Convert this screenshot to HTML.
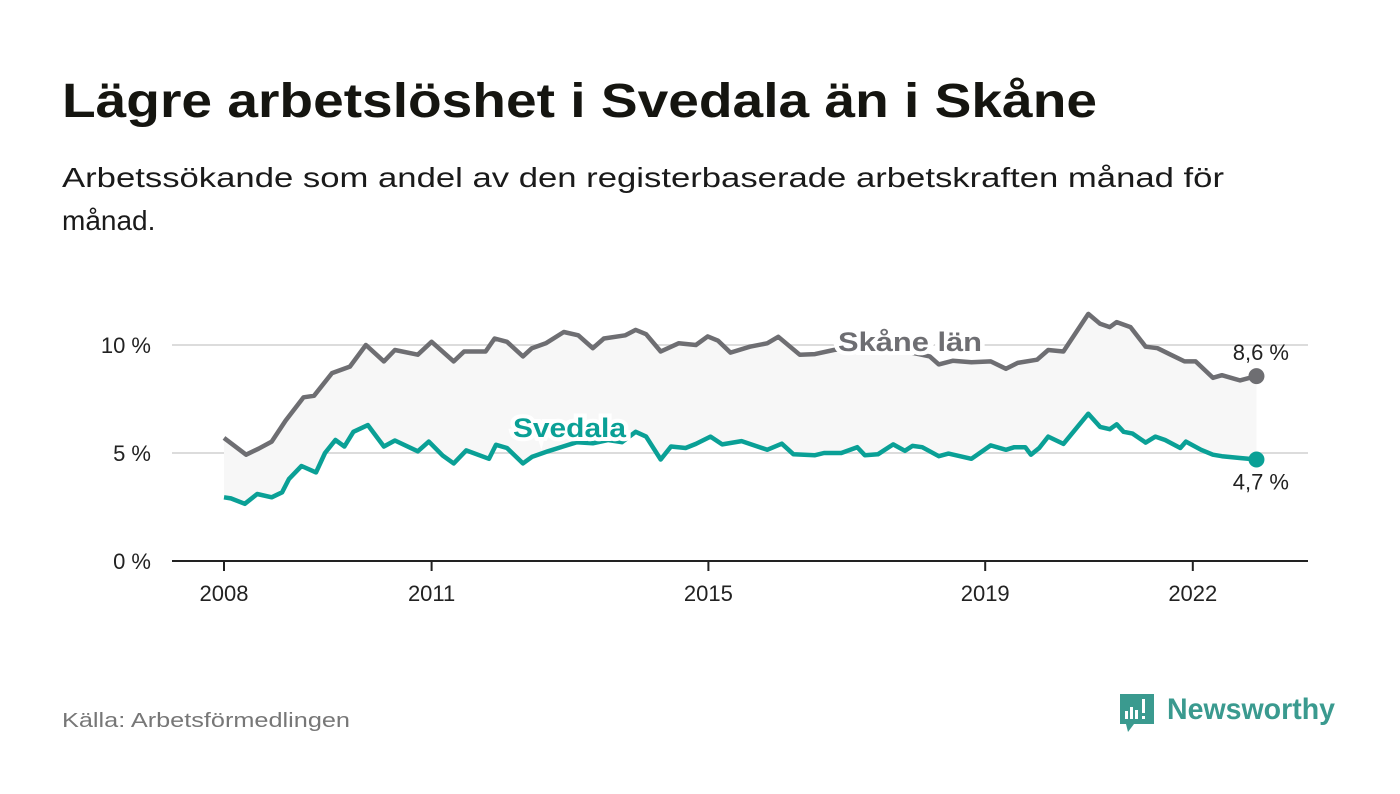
<!DOCTYPE html>
<html><head><meta charset="utf-8"><style>
html,body{margin:0;padding:0;background:#fff;}
svg{display:block;font-family:"Liberation Sans",sans-serif;}
</style></head><body>
<svg id="chart" width="1400" height="794" viewBox="0 0 1400 794">
<text x="62" y="117" font-size="48" font-weight="bold" fill="#151510" textLength="1035" lengthAdjust="spacingAndGlyphs">Lägre arbetslöshet i Svedala än i Skåne</text>
<text x="62" y="187" font-size="28" fill="#1a1a1a" textLength="1162" lengthAdjust="spacingAndGlyphs">Arbetssökande som andel av den registerbaserade arbetskraften månad för</text>
<text x="62" y="230" font-size="28" fill="#1a1a1a">månad.</text>
<g id="grid"></g>
<g id="plot"></g>
<g id="labels"></g>
<text x="62" y="727" font-size="20" fill="#777" textLength="288" lengthAdjust="spacingAndGlyphs">Källa: Arbetsförmedlingen</text>
<g>
<path d="M1120 694 h34 v30 h-20 l-6 8 l-2 -8 h-6 z" fill="#3a9a8f"/>
<rect x="1125" y="711" width="3" height="8" fill="#fff"/><rect x="1130" y="707" width="3" height="12" fill="#fff"/><rect x="1135" y="710" width="3" height="9" fill="#fff"/><rect x="1142" y="699" width="3" height="14" fill="#fff"/><rect x="1142" y="716" width="3" height="3" fill="#fff"/>
<text x="1167" y="719" font-size="30" font-weight="bold" fill="#3a9a8f" textLength="168" lengthAdjust="spacingAndGlyphs">Newsworthy</text>
</g>
</svg>
<script>
const yTicks = [0, 5, 10];
const yTickLabels = ["0 %", "5 %", "10 %"];
const xTicks = [2008, 2011, 2015, 2019, 2022];
const skaneDates = [2008.0,2008.32,2008.5,2008.69,2008.89,2009.15,2009.3,2009.56,2009.82,2010.05,2010.31,2010.47,2010.8,2011.0,2011.32,2011.47,2011.78,2011.91,2012.09,2012.32,2012.45,2012.65,2012.91,2013.12,2013.33,2013.49,2013.8,2013.95,2014.1,2014.31,2014.57,2014.82,2014.99,2015.14,2015.32,2015.6,2015.85,2016.01,2016.32,2016.54,2016.81,2017.1,2017.4,2017.7,2018.0,2018.2,2018.33,2018.53,2018.8,2019.08,2019.3,2019.47,2019.75,2019.91,2020.13,2020.49,2020.66,2020.8,2020.9,2021.1,2021.32,2021.49,2021.68,2021.88,2022.04,2022.29,2022.42,2022.68,2022.92];
const skaneValues = [5.7,4.92,5.2,5.53,6.5,7.58,7.65,8.7,9.0,10.0,9.24,9.77,9.55,10.15,9.24,9.7,9.7,10.3,10.15,9.47,9.85,10.08,10.6,10.45,9.85,10.3,10.45,10.7,10.5,9.7,10.08,10.0,10.4,10.2,9.65,9.92,10.08,10.38,9.55,9.58,9.77,9.9,9.95,9.8,9.6,9.47,9.1,9.27,9.2,9.24,8.9,9.17,9.32,9.77,9.7,11.44,10.98,10.83,11.06,10.83,9.92,9.85,9.55,9.24,9.24,8.48,8.6,8.36,8.56];
const svedalaDates = [2008.0,2008.1,2008.3,2008.48,2008.69,2008.84,2008.94,2009.12,2009.33,2009.46,2009.61,2009.74,2009.87,2010.08,2010.31,2010.47,2010.8,2010.96,2011.16,2011.32,2011.5,2011.83,2011.93,2012.09,2012.32,2012.45,2012.68,2012.9,2013.1,2013.33,2013.55,2013.75,2013.95,2014.1,2014.31,2014.46,2014.67,2014.82,2015.03,2015.2,2015.48,2015.85,2016.06,2016.23,2016.54,2016.67,2016.92,2017.15,2017.26,2017.45,2017.67,2017.84,2017.95,2018.09,2018.33,2018.47,2018.8,2019.08,2019.3,2019.42,2019.58,2019.66,2019.78,2019.91,2020.13,2020.49,2020.66,2020.8,2020.9,2021.0,2021.13,2021.32,2021.46,2021.6,2021.82,2021.9,2022.12,2022.29,2022.42,2022.68,2022.92];
const svedalaValues = [2.95,2.9,2.65,3.1,2.95,3.18,3.8,4.4,4.1,5.0,5.6,5.3,5.98,6.29,5.3,5.58,5.08,5.53,4.88,4.52,5.12,4.73,5.38,5.23,4.52,4.82,5.08,5.3,5.5,5.45,5.6,5.5,5.98,5.76,4.7,5.3,5.23,5.42,5.76,5.4,5.55,5.15,5.43,4.94,4.9,5.0,5.0,5.27,4.9,4.94,5.4,5.1,5.33,5.27,4.85,4.97,4.73,5.35,5.15,5.27,5.27,4.92,5.23,5.76,5.42,6.82,6.21,6.1,6.33,5.98,5.9,5.48,5.76,5.6,5.23,5.53,5.15,4.92,4.85,4.77,4.7];
const skaneLast = "8,6 %";
const svedalaLast = "4,7 %";

const NS = "http://www.w3.org/2000/svg";
const X0 = 224, PXY = 69.2, Y0 = 561, PXV = 21.6;
function xS(yr){ return X0 + (yr - 2008) * PXY; }
function yS(v){ return Y0 - v * PXV; }
function mk(tag, attrs, parent){
  const e = document.createElementNS(NS, tag);
  for (const k in attrs) e.setAttribute(k, attrs[k]);
  parent.appendChild(e); return e;
}
const grid = document.getElementById('grid');
const plot = document.getElementById('plot');
const labels = document.getElementById('labels');

yTicks.forEach((t, i) => {
  if (t > 0) {
    const g = mk('line', {x1:172, x2:1308, y1:yS(t), y2:yS(t), stroke:'#dcdcdc', 'stroke-width':2}, grid);
    
    
  }
  const tx = mk('text', {x:151, y:yS(t)+8, 'text-anchor':'end', 'font-size':22, fill:'#222'}, grid);
  tx.textContent = yTickLabels[i];
  
  
});
const ax = mk('line', {x1:172, x2:1308, y1:Y0, y2:Y0, stroke:'#222', 'stroke-width':2}, grid);


xTicks.forEach(t => {
  const tk = mk('line', {x1:xS(t), x2:xS(t), y1:Y0, y2:Y0+10, stroke:'#222', 'stroke-width':2}, grid);
  
  
  const tx = mk('text', {x:xS(t), y:601, 'text-anchor':'middle', 'font-size':22, fill:'#222'}, grid);
  tx.textContent = String(t);
  
  
});

function pts(d, v){ return d.map((yr, i) => xS(yr).toFixed(1) + ',' + yS(v[i]).toFixed(1)); }
const sk = pts(skaneDates, skaneValues), sv = pts(svedalaDates, svedalaValues);
const area = mk('polygon', {points: sk.concat(sv.slice().reverse()).join(' '), fill:'#f7f7f7'}, plot);


const l1 = mk('polyline', {points: sk.join(' '), fill:'none', stroke:'#6e6e72', 'stroke-width':4.5, 'stroke-linejoin':'round'}, plot);


const l2 = mk('polyline', {points: sv.join(' '), fill:'none', stroke:'#0aa096', 'stroke-width':4.5, 'stroke-linejoin':'round'}, plot);



const ls = skaneDates.length - 1, lv = svedalaDates.length - 1;
const d1 = mk('circle', {cx:xS(skaneDates[ls]), cy:yS(skaneValues[ls]), r:8, fill:'#6e6e72'}, plot);


const d2 = mk('circle', {cx:xS(svedalaDates[lv]), cy:yS(svedalaValues[lv]), r:8, fill:'#0aa096'}, plot);



const e1 = mk('text', {x:1289, y:yS(skaneValues[ls]) - 16, 'text-anchor':'end', 'font-size':22, fill:'#222'}, labels);
e1.textContent = skaneLast;


const e2 = mk('text', {x:1289, y:yS(svedalaValues[lv]) + 30, 'text-anchor':'end', 'font-size':22, fill:'#222'}, labels);
e2.textContent = svedalaLast;



const s1 = mk('text', {x:838, y:351, 'font-size':27, 'font-weight':'bold', fill:'#6e6e72', stroke:'#fff', 'stroke-width':8, 'paint-order':'stroke', textLength:144, lengthAdjust:'spacingAndGlyphs'}, labels);
s1.textContent = 'Skåne län';


const s2 = mk('text', {x:513, y:437, 'font-size':27, 'font-weight':'bold', fill:'#0aa096', stroke:'#fff', 'stroke-width':8, 'paint-order':'stroke', textLength:113, lengthAdjust:'spacingAndGlyphs'}, labels);
s2.textContent = 'Svedala';


</script>
</body></html>
